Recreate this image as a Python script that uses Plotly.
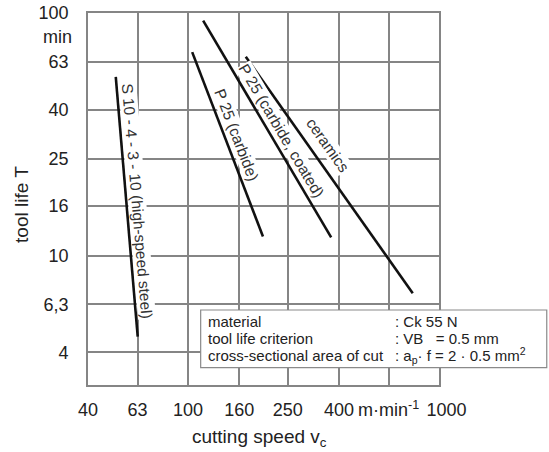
import numpy as np
import plotly.graph_objects as go

# ---- data ----
hss_v = [51.6, 63.1]
hss_T = [54.6, 4.64]
carbide_v = [104, 199]
carbide_T = [69, 12.0]
coated_v = [115, 372]
coated_T = [93, 11.9]
ceramics_v = [170, 786]
ceramics_T = [66, 7.0]

series_names = ["S 10 - 4 - 3 - 10 (high-speed steel)", "P 25 (carbide)",
                "P 25 (carbide, coated)", "ceramics"]

x_tickvals = [40, 63, 100, 160, 250, 400, 630, 1000]
x_ticktext = ["40", "63", "100", "160", "250", "400", "m·min<sup>-1</sup>",
              "\u00a0\u00a0\u00a01000"]
y_tickvals = [4, 6.3, 10, 16, 25, 40, 63, 100]
y_ticktext = ["4", "6,3", "10", "16", "25", "40", "63", "100"]

box_left = ["material", "tool life criterion", "cross-sectional area of cut"]
box_right = [": Ck 55 N", ": VB\u00a0\u00a0\u00a0= 0.5 mm",
             ": a<sub>p</sub>· f = 2 · 0.5 mm<sup>2</sup>"]

FONT = "Liberation Sans, Arial, sans-serif"
TXT = "#222222"
GRID = "#858585"

W, H = 549, 452
ML, MR, MT, MB = 88, 110, 13, 67
XR = [np.log10(40), 3.0]
YR = [0.467, 2.0]
kx = (W - ML - MR) / (XR[1] - XR[0])   # px per decade
ky = (H - MT - MB) / (YR[1] - YR[0])

fig = go.Figure()
all_v = [hss_v, carbide_v, coated_v, ceramics_v]
all_T = [hss_T, carbide_T, coated_T, ceramics_T]
for v, T, n in zip(all_v, all_T, series_names):
    fig.add_trace(go.Scatter(x=v, y=T, mode="lines", name=n,
                             line=dict(color="#111111", width=2.6),
                             showlegend=False, hoverinfo="skip"))

# line labels: placed along each line (normal offset, along offset) in pixels
label_offsets = [(10.5, -5), (12, -5), (11, 8.7), (16.5, -25)]
for v, T, n, (off_n, off_a) in zip(all_v, all_T, series_names, label_offsets):
    lx = np.log10(v)
    ly = np.log10(T)
    dx = (lx[1] - lx[0]) * kx
    dy = -(ly[1] - ly[0]) * ky           # screen y downwards
    L = np.hypot(dx, dy)
    ux, uy = dx / L, dy / L
    nx, ny = uy, -ux                      # normal to the right of the line
    sx = off_n * nx + off_a * ux
    sy = off_n * ny + off_a * uy
    ang = float(np.degrees(np.arctan2(dy, dx)))
    fig.add_annotation(x=float(lx.mean()), y=float(ly.mean()), text=n,
                       showarrow=False, textangle=ang, xshift=sx, yshift=-sy,
                       bgcolor="white", borderpad=0,
                       font=dict(family=FONT, size=15.5, color="#333333"),
                       xanchor="center", yanchor="middle")

# "min" unit label on y axis
fig.add_annotation(x=0, xref="paper", y=np.log10(80), yref="y", text="min",
                   showarrow=False, xanchor="right", yanchor="middle", xshift=-14,
                   font=dict(family=FONT, size=18, color=TXT))

# axis titles
fig.add_annotation(x=0.49, xref="paper", y=-0.1425, yref="paper",
                   text="cutting speed v<sub>c</sub>", showarrow=False,
                   xanchor="center", yanchor="middle",
                   font=dict(family=FONT, size=19, color=TXT))
fig.add_annotation(x=-0.188, xref="paper", y=0.484, yref="paper",
                   text="tool life T", showarrow=False, textangle=-90,
                   xanchor="center", yanchor="middle",
                   font=dict(family=FONT, size=19, color=TXT))

# info box
fig.add_shape(type="rect", xref="paper", yref="paper", x0=0.321, x1=1.307,
              y0=0.0465, y1=0.2016, fillcolor="white",
              line=dict(color="#8a8a8a", width=1.2), layer="above")
rows_y = [0.1694, 0.1237, 0.078]
for yy, lt, rt in zip(rows_y, box_left, box_right):
    fig.add_annotation(x=0.336, xref="paper", y=yy, yref="paper", text=lt,
                       showarrow=False, xanchor="left", yanchor="middle",
                       font=dict(family=FONT, size=15, color=TXT))
    fig.add_annotation(x=0.869, xref="paper", y=yy, yref="paper", text=rt,
                       showarrow=False, xanchor="left", yanchor="middle",
                       font=dict(family=FONT, size=15, color=TXT))

fig.update_xaxes(type="log", range=XR, tickvals=x_tickvals,
                 ticktext=x_ticktext, tickangle=0, showgrid=True, gridcolor=GRID,
                 gridwidth=1.5, showline=True, mirror=True, linecolor=GRID,
                 linewidth=1.6, ticks="", ticklabelstandoff=8, zeroline=False,
                 tickfont=dict(family=FONT, size=18, color=TXT), automargin=False)
fig.update_yaxes(type="log", range=YR, tickvals=y_tickvals,
                 ticktext=y_ticktext, showgrid=True, gridcolor=GRID,
                 gridwidth=1.5, showline=True, mirror=True, linecolor=GRID,
                 linewidth=1.6, ticks="", ticklabelstandoff=14, zeroline=False,
                 tickfont=dict(family=FONT, size=18, color=TXT), automargin=False)

fig.update_layout(width=W, height=H, margin=dict(l=ML, r=MR, t=MT, b=MB),
                  paper_bgcolor="white", plot_bgcolor="white",
                  font=dict(family=FONT, color=TXT))

fig.write_html("out.html")
